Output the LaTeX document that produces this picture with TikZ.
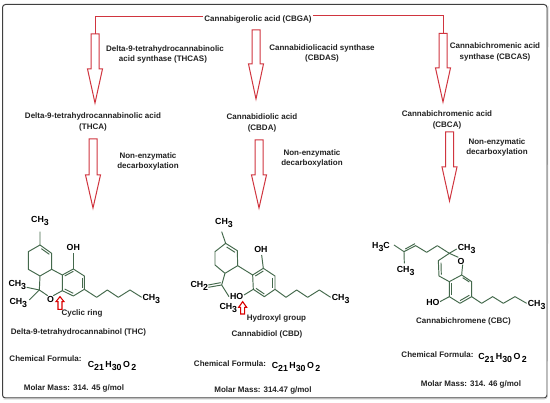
\documentclass[tikz,border=0pt]{standalone}
\usepackage{fontspec}
\setmainfont{Liberation Sans}
\definecolor{arrowred}{HTML}{D0353F}
\definecolor{bondgreen}{HTML}{44694C}
\definecolor{inktext}{HTML}{222222}
\newcommand{\Sb}[1]{\raisebox{-3pt}{#1}}
\tikzset{
  lab/.style={font=\fontsize{8}{10.8}\selectfont\bfseries,text=inktext,inner sep=0pt,align=center},
  atom/.style={font=\fontsize{8.8}{10}\selectfont\bfseries,text=black,inner sep=0pt},
  bond/.style={draw=bondgreen,line width=0.95pt,line join=round},
  redline/.style={draw=arrowred,line width=1pt},
  blockarrow/.style={draw=arrowred,line width=1pt,fill=white,line join=miter},
  smallarrow/.style={draw=red!85!black,line width=1.1pt,fill=white},
  mol/.style={x=0.3333pt,y=-0.3333pt}
}
% #1 name, #2 x centre, #3 shaft top, #4 shaft bottom, #5 tip y, #6 shaft half, #7 head half
\newcommand{\blockdown}[7]{%
  \draw[blockarrow] (#2-#6,#3) -- (#2+#6,#3) -- (#2+#6,#4) -- (#2+#7,#4) -- (#2,#5) -- (#2-#7,#4) -- (#2-#6,#4) -- cycle;
  \coordinate (#1) at (#2,#3);}
\begin{document}
\begin{tikzpicture}[x=1pt,y=-1pt]
\useasboundingbox (0,0) rectangle (550,403);
\fill[white] (0,0) rectangle (550,403);
\draw[draw=black!75,line width=1pt,rounded corners=3pt] (2.5,4.5) rectangle (547,398);
\draw[draw=black!25,line width=0.6pt,rounded corners=3pt] (3.5,399) -- (547.5,399) -- (548,6);

% block arrows
\blockdown{a1}{95}{34}{69}{103}{4}{7.5}
\blockdown{a2}{256}{30}{64}{99}{4}{7.5}
\blockdown{a3}{443}{33.5}{68}{102}{4}{7.5}
\blockdown{a4}{93}{139}{175}{208}{4}{7.5}
\blockdown{a5}{259}{140}{175}{208}{4}{7.5}
\blockdown{a6}{449.5}{132}{167}{201}{4}{7.5}

% top labels
\node[lab] (cbga) at (258,19) {Cannabigerolic acid (CBGA)};
\draw[redline] (cbga.west) ++(-1,-2) -| (a1);
\draw[redline] (cbga.east) ++(1,-3) -| (a3);
\node[lab] (thcas) at (163,54.5) {\hspace*{4pt}Delta-9-tetrahydrocannabinolic\\acid synthase (THCAS)};
\node[lab] (cbdas) at (322,53.5) {Cannabidiolicacid synthase\\(CBDAS)};
\node[lab] (cbcas) at (495,52) {Cannabichromenic acid\\synthase (CBCAS)};
\node[lab] (thca) at (93,122) {Delta-9-tetrahydrocannabinolic acid\\(THCA)};
\node[lab] (cbda) at (262,123) {Cannabidiolic acid\\(CBDA)};
\node[lab] (cbca) at (447,120) {Cannabichromenic acid\\(CBCA)};
\node[lab] (ne1) at (148,161.5) {Non-enzymatic\\decarboxylation};
\node[lab] (ne2) at (312,158.5) {Non-enzymatic\\decarboxylation};
\node[lab] (ne3) at (497,147.5) {Non-enzymatic\\decarboxylation};

% THC molecule
\begin{scope}[shift={(0,200)},mol]
\draw[bond] (120,95) -- (120,135) -- (155,160) -- (155,208) -- (120,228) -- (85,208) -- (85,155) -- (120,135);
\draw[bond] (124,146) -- (148,163);
\draw[bond] (155,208) -- (187,225) -- (220,207) -- (253,228) -- (253,268) -- (220,288) -- (187,272) -- (187,225);
\draw[bond] (194,228) -- (220,214);
\draw[bond] (246,233) -- (246,264);
\draw[bond] (220,280) -- (194,267);
\draw[bond] (120,228) -- (118,270) -- (143,287);
\draw[bond] (160,287) -- (187,272);
\draw[bond] (118,270) -- (80,262);
\draw[bond] (118,270) -- (88,300);
\draw[bond] (220,207) -- (220,160);
\draw[bond] (253,268) -- (290,292) -- (322,270) -- (355,292) -- (390,270) -- (425,292);
\node[atom] (t1) at (120,62) {CH\Sb{3}};
\node[atom] (t2) at (220,141) {OH};
\node[atom] (t3) at (52,256) {CH\Sb{3}};
\node[atom] (t4) at (55,308) {CH\Sb{3}};
\node[atom] (t5) at (152,297) {O};
\node[atom] (t6) at (454,296) {CH\Sb{3}};
\draw[smallarrow] (180,290) -- (192,305) -- (186,305) -- (186,328) -- (174,328) -- (174,305) -- (168,305) -- cycle;
\end{scope}
\node[lab] (t7) at (82,313.5) {Cyclic ring};
\node[lab] (t8) at (78.5,332) {Delta-9-tetrahydrocannabinol (THC)};
\node[lab] (t9) at (45.5,359) {Chemical Formula:};
\node[atom] (t10) at (112,366) {C\Sb{21}\,H\Sb{30}\,O\Sb{\,2}};
\node[lab] (t11) at (74,388) {Molar Mass: 314. 45 g/mol};

% CBD molecule
\begin{scope}[shift={(180,200)},mol]
\draw[bond] (125,95) -- (137,130) -- (172,152) -- (173,197) -- (135,220) -- (105,195) -- (105,155) -- (137,130);
\draw[bond] (140,141) -- (165,157);
\draw[bond] (173,197) -- (218,225) -- (250,205) -- (285,228) -- (285,268) -- (253,290) -- (220,268) -- (218,225);
\draw[bond] (226,228) -- (250,213);
\draw[bond] (278,233) -- (278,264);
\draw[bond] (253,282) -- (228,265);
\draw[bond] (250,205) -- (245,165);
\draw[bond] (220,268) -- (192,285);
\draw[bond] (285,268) -- (318,292) -- (350,270) -- (383,292) -- (418,270) -- (452,292);
\draw[bond] (135,220) -- (125,255) -- (85,262);
\draw[bond] (122,248) -- (85,255);
\draw[bond] (125,255) -- (147,290);
\node[atom] (d1) at (132,68) {CH\Sb{3}};
\node[atom] (d2) at (243,149) {OH};
\node[atom] (d3) at (58,259) {CH\Sb{2}};
\node[atom] (d4) at (170,288) {HO};
\node[atom] (d5) at (145,323) {CH\Sb{3}};
\node[atom] (d6) at (482,297) {CH\Sb{3}};
\draw[smallarrow] (188,305) -- (200,322) -- (194,322) -- (194,342) -- (182,342) -- (182,322) -- (176,322) -- cycle;
\end{scope}
\node[lab] (d7) at (276.5,318.5) {Hydroxyl group};
\node[lab] (d8) at (267,334) {Cannabidiol (CBD)};
\node[lab] (d9) at (230,363.5) {Chemical Formula:};
\node[atom] (d10) at (296,367) {C\Sb{21}\,H\Sb{30}\,O\Sb{\,2}};
\node[lab] (d11) at (263,390.5) {Molar Mass: 314.47 g/mol};

% CBC molecule
\begin{scope}[shift={(360,200)},mol]
\draw[bond] (102,135) -- (132,155) -- (167,137) -- (200,157) -- (232,137) -- (268,160);
\draw[bond] (136,147) -- (165,131);
\draw[bond] (132,155) -- (133,190);
\draw[bond] (268,160) -- (290,147);
\draw[bond] (268,160) -- (295,172);
\draw[bond] (268,160) -- (235,182) -- (237,228) -- (268,245);
\draw[bond] (243,188) -- (244,224);
\draw[bond] (308,194) -- (305,225) -- (335,245) -- (335,290) -- (300,310) -- (268,290) -- (268,245) -- (305,225);
\draw[bond] (328,286) -- (300,302);
\draw[bond] (275,285) -- (275,250);
\draw[bond] (308,233) -- (328,246);
\draw[bond] (268,290) -- (240,305);
\draw[bond] (335,290) -- (365,310) -- (398,290) -- (430,310) -- (465,290) -- (500,310);
\node[atom] (c1) at (63,140) {H\Sb{3}C};
\node[atom] (c2) at (137,214) {CH\Sb{3}};
\node[atom] (c3) at (320,146) {CH\Sb{3}};
\node[atom] (c4) at (303,183) {O};
\node[atom] (c5) at (219,306) {HO};
\node[atom] (c6) at (530,315) {CH\Sb{3}};
\end{scope}
\node[lab] (c7) at (463.5,321.5) {Cannabichromene (CBC)};
\node[lab] (c8) at (437.5,355) {Chemical Formula:};
\node[atom] (c9) at (502.5,358) {C\Sb{21}\,H\Sb{30}\,O\Sb{\,2}};
\node[lab] (c10) at (471,384) {Molar Mass: 314. 46 g/mol};
\end{tikzpicture}
\end{document}
